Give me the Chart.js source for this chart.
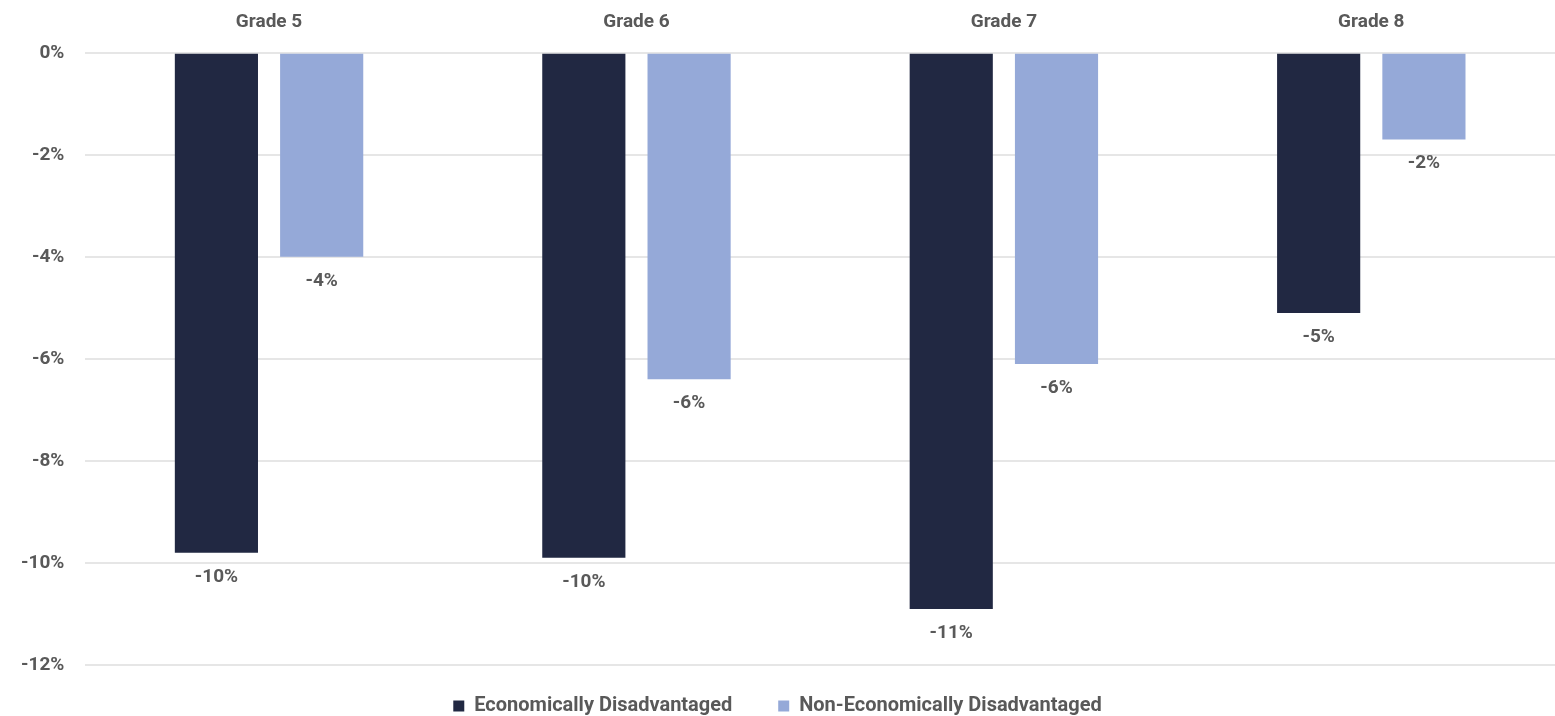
<!DOCTYPE html>
<html>
<head>
<meta charset="utf-8">
<script src="https://cdn.jsdelivr.net/npm/chart.js@4"></script>
<style>
  html, body { margin: 0; padding: 0; background: #fff; }
  #wrap { width: 1555px; height: 716px; }
</style>
</head>
<body>
<div id="wrap"><canvas id="gapChart"></canvas></div>
<script>
/* data */
const grades = ["Grade 5", "Grade 6", "Grade 7", "Grade 8"];
const econDis = [-9.8, -9.9, -10.9, -5.1];
const nonEconDis = [-4.0, -6.4, -6.1, -1.7];
const yTicks = [0, -2, -4, -6, -8, -10, -12];

const FONT = "'Roboto', sans-serif";
const GREY = "#595959";

/* labels under the bars */
const barLabels = {
  id: "barLabels",
  afterDatasetsDraw(chart) {
    const c = chart.ctx;
    c.save();
    c.font = "bold 19px " + FONT;
    c.fillStyle = GREY;
    c.textAlign = "center";
    c.textBaseline = "middle";
    chart.data.datasets.forEach((ds, i) => {
      chart.getDatasetMeta(i).data.forEach((bar, j) => {
        c.fillText(Math.round(ds.data[j]) + "%", bar.x, bar.y + 24);
      });
    });
    c.restore();
  }
};

new Chart(document.getElementById("gapChart"), {
  type: "bar",
  data: {
    labels: grades,
    datasets: [
      {
        label: "Economically Disadvantaged",
        data: econDis,
        backgroundColor: "#212842",
        categoryPercentage: 0.573,
        barPercentage: 0.79
      },
      {
        label: "Non-Economically Disadvantaged",
        data: nonEconDis,
        backgroundColor: "#95a9d8",
        categoryPercentage: 0.573,
        barPercentage: 0.79
      }
    ]
  },
  options: {
    responsive: true,
    maintainAspectRatio: false,
    animation: false,
    layout: { padding: { left: 0, right: 0, top: -8, bottom: -10 } },
    plugins: {
      legend: {
        position: "bottom",
        labels: {
          color: GREY,
          font: { family: FONT, size: 20, weight: "bold" },
          boxWidth: 11,
          boxHeight: 11,
          padding: 31,
          generateLabels(chart) {
            const items = Chart.defaults.plugins.legend.labels.generateLabels(chart);
            items[0].text += "   ";
            return items;
          }
        }
      },
      tooltip: { enabled: false }
    },
    scales: {
      x: {
        position: "top",
        grid: { display: false, drawTicks: false },
        border: { display: false },
        ticks: {
          color: GREY,
          font: { family: FONT, size: 19, weight: "bold" },
          padding: 19
        }
      },
      y: {
        min: -12,
        max: 0,
        afterBuildTicks(axis) {
          axis.ticks = yTicks.map(v => ({ value: v }));
        },
        grid: { color: "#e6e6e6", lineWidth: 2, drawTicks: false },
        border: { display: false },
        ticks: {
          color: GREY,
          font: { family: FONT, size: 19, weight: "bold" },
          padding: 21,
          callback: v => v + "%"
        }
      }
    }
  },
  plugins: [barLabels]
});
</script>
</body>
</html>
